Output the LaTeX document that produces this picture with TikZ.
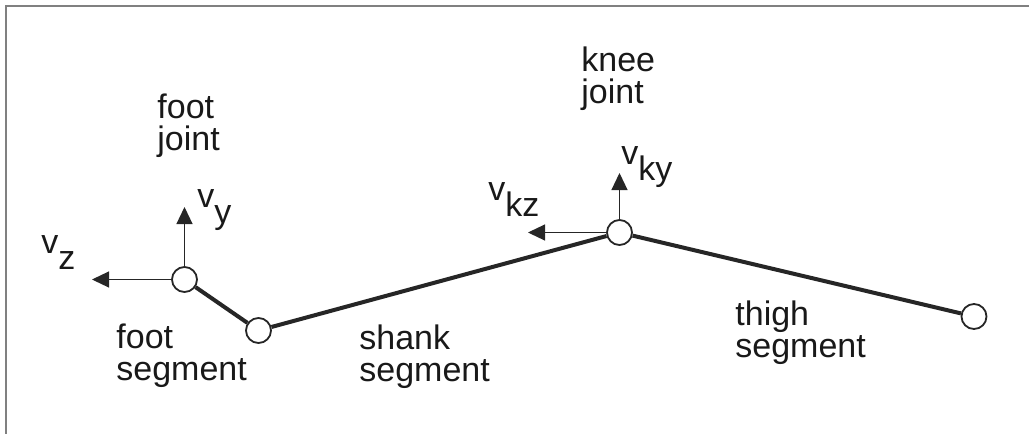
\documentclass[tikz,border=0pt]{standalone}
\usepackage{fontspec}
\setmainfont{Liberation Sans}
\usetikzlibrary{arrows.meta}
\newcommand{\vsub}[1]{v\raisebox{-8pt}{#1}}

\begin{document}
\begin{tikzpicture}
      [x=0.5pt, y=-0.5pt,
      joint/.style={circle, draw=black!85, line width=0.9pt, fill=white, minimum size=12.5pt, inner sep=0pt},
      limb/.style={line width=2pt, draw=black!85},
      axis/.style={line width=0.6pt, draw=black!85, -{Triangle[length=8.5pt, width=8pt]}},
      lbl/.style={align=left, anchor=base west, inner sep=0pt, text=black!90, font=\fontsize{17}{16}\selectfont},
      ]
      \useasboundingbox (0,0) rectangle (1029,434);
      \draw[gray, line width=1pt] (5.5,434) -- (5.5,5.5) -- (1029,5.5);

      % joints
      \node[joint] (foot) at (184.5,279.5) {};
      \node[joint] (ankle) at (258.5,330.5) {};
      \node[joint] (knee) at (619.5,232.5) {};
      \node[joint] (hip) at (974,316.5) {};

      % segments
      \draw[limb] (foot) -- (ankle);
      \draw[limb] (ankle) -- (knee);
      \draw[limb] (knee) -- (hip);

      % velocity axes
      \coordinate (vytip) at (184.5,207);
      \coordinate (vztip) at (92,279.5);
      \coordinate (vkytip) at (619.5,173);
      \coordinate (vkztip) at (528,232.5);
      \draw[axis] (foot) -- (vytip);
      \draw[axis] (foot) -- (vztip);
      \draw[axis] (knee) -- (vkytip);
      \draw[axis] (knee) -- (vkztip);

      % labels (base = last line)
      \node[lbl] (footjoint) at (157,150) {foot\\joint};
      \node[lbl] (kneejoint) at (581,103) {knee\\joint};
      \node[lbl] (vy) at (197,207) {\vsub{y}};
      \node[lbl] (vz) at (41,253) {\vsub{z}};
      \node[lbl] (vky) at (621,164) {\vsub{ky}};
      \node[lbl] (vkz) at (488,200) {\vsub{kz}};
      \node[lbl] (footseg) at (116,380) {foot\\segment};
      \node[lbl] (shankseg) at (359,381) {shank\\segment};
      \node[lbl] (thighseg) at (735,357) {thigh\\segment};
\end{tikzpicture}
\end{document}
